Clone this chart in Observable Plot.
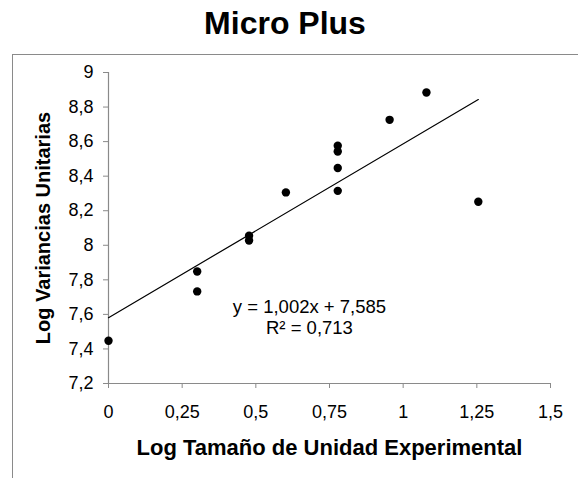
<!DOCTYPE html>
<html>
<head>
<meta charset="utf-8">
<script src="https://cdn.jsdelivr.net/npm/d3@7"></script>
<script src="https://cdn.jsdelivr.net/npm/@observablehq/plot@0.6"></script>
<style>
  html, body { margin: 0; padding: 0; background: #fff; overflow: hidden; }
  #wrap { position: relative; width: 578px; height: 478px; overflow: hidden; font-family: "Liberation Sans", Arial, sans-serif; }
  #frame { position: absolute; left: 12px; top: 54px; width: 700px; height: 600px; border-left: 1.5px solid #8a8a8a; border-top: 1.5px solid #8a8a8a; }
  #title { position: absolute; left: 0; top: 8px; width: 570px; text-align: center; font-size: 32px; line-height: 30px; font-weight: bold; color: #000; }
  #chart { position: absolute; left: 0; top: 0; }
  #chart g[aria-label="x-axis tick"], #chart g[aria-label="y-axis tick"] { stroke: #8a8a8a; }
</style>
</head>
<body>
<div id="wrap">
  <div id="frame"></div>
  <div id="title">Micro Plus</div>
  <div id="chart"></div>
</div>
<script>
const titleText = "Micro Plus";
const xLabel = "Log Tamaño de Unidad Experimental";
const yLabel = "Log Variancias Unitarias";
const xTicks = [0, 0.25, 0.5, 0.75, 1, 1.25, 1.5];
const yTicks = [7.2, 7.4, 7.6, 7.8, 8, 8.2, 8.4, 8.6, 8.8, 9];
const logSize = [0, 0.301, 0.301, 0.477, 0.477, 0.602, 0.778, 0.778, 0.778, 0.778, 0.954, 1.079, 1.255];
const logVar  = [7.447, 7.848, 7.733, 8.055, 8.028, 8.306, 8.576, 8.543, 8.447, 8.315, 8.726, 8.884, 8.252];
const equationLines = ["y = 1,002x + 7,585", "R² = 0,713"];

const data = logSize.map((x, i) => ({x, y: logVar[i]}));
const fmt = d => String(d).replace(".", ",");

const chart = Plot.plot({
  width: 578,
  height: 478,
  marginLeft: 108,
  marginRight: 28,
  marginTop: 72,
  marginBottom: 95,
  style: {fontFamily: '"Liberation Sans", Arial, sans-serif', fontSize: "18px", color: "#000", background: "transparent"},
  x: {domain: [0, 1.5], ticks: xTicks, tickFormat: fmt, tickSize: 5, tickPadding: 17, label: null},
  y: {domain: [7.2, 9], ticks: yTicks, tickFormat: fmt, tickSize: 5, tickPadding: 10, label: null},
  marks: [
    Plot.ruleX([0], {stroke: "#8a8a8a", strokeWidth: 1.2}),
    Plot.ruleY([7.2], {stroke: "#8a8a8a", strokeWidth: 1.2}),
    Plot.linearRegressionY(data, {x: "x", y: "y", ci: 0, stroke: "#000", strokeWidth: 1.2}),
    Plot.dot(data, {x: "x", y: "y", r: 4.2, fill: "#000", stroke: "none"}),
    Plot.text([equationLines.join("\n")], {x: 0.682, y: 7.584, textAnchor: "middle", lineAnchor: "middle", lineHeight: 1.12, fontSize: 18.5}),
    Plot.text([xLabel], {frameAnchor: "bottom", dy: 64, textAnchor: "middle", lineAnchor: "middle", fontSize: 22, fontWeight: "bold", wordSpacing: "-3px"}),
    Plot.text([yLabel], {frameAnchor: "left", dx: -65, textAnchor: "middle", rotate: -90, lineAnchor: "middle", fontSize: 20, fontWeight: "bold", wordSpacing: "-2px"})
  ]
});
document.getElementById("title").textContent = titleText;
document.getElementById("chart").appendChild(chart);
</script>
</body>
</html>
